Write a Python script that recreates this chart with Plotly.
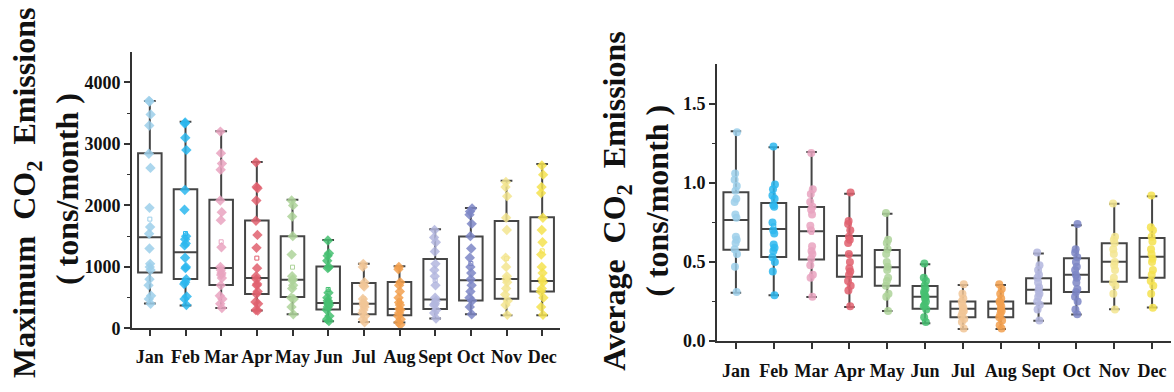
import numpy as np
import plotly.graph_objects as go

MONTHS = ["Jan", "Feb", "Mar", "Apr", "May", "Jun", "Jul", "Aug", "Sept", "Oct", "Nov", "Dec"]
COLORS = ["#9CCFEA", "#2CB7EE", "#E9A3C0", "#E0606F", "#AED39A", "#45C071",
          "#F1C696", "#F2A04F", "#B3B6DE", "#7D86C6", "#F3E58F", "#F4E24F"]

# ---- Maximum CO2 emissions (tons/month) ----
MAX_Q1 = [910, 803, 707, 559, 511, 309, 229, 213, 314, 452, 484, 601]
MAX_MED = [1484, 1239, 984, 819, 793, 415, 399, 314, 468, 782, 803, 771]
MAX_Q3 = [2846, 2261, 2090, 1755, 1500, 1005, 739, 755, 1128, 1495, 1745, 1808]
MAX_LO = [404, 372, 330, 290, 229, 117, 106, 96, 160, 229, 213, 213]
MAX_HI = [3697, 3362, 3207, 2707, 2090, 1436, 1053, 1011, 1612, 1957, 2399, 2675]

MAX_PTS = {
    "Jan": [3700, 3690, 3480, 3300, 2840, 2610, 1960, 1650, 1540, 1300, 1050, 1000, 950, 800, 700, 530, 480, 400],
    "Feb": [3350, 3330, 3100, 2900, 2250, 1930, 1500, 1450, 1380, 1350, 1150, 1000, 980, 800, 750, 720, 520, 480, 380],
    "Mar": [3200, 2850, 2680, 2580, 2080, 1890, 1760, 1320, 1000, 950, 900, 870, 820, 700, 530, 480, 400, 330],
    "Apr": [2700, 2300, 2280, 2080, 1750, 1520, 1310, 980, 850, 800, 720, 700, 600, 560, 430, 400, 300, 290],
    "May": [2080, 2000, 1820, 1500, 1200, 850, 800, 780, 700, 650, 500, 480, 350, 230],
    "Jun": [1430, 1220, 1180, 1100, 1000, 980, 580, 500, 450, 420, 400, 380, 350, 300, 200, 150, 120],
    "Jul": [1050, 1000, 750, 700, 680, 480, 420, 400, 380, 350, 300, 250, 200, 150, 100],
    "Aug": [1000, 960, 750, 700, 600, 500, 420, 380, 320, 300, 250, 200, 150, 100, 60],
    "Sept": [1600, 1480, 1400, 1250, 1050, 950, 850, 700, 500, 450, 400, 380, 300, 250, 160],
    "Oct": [1950, 1900, 1850, 1700, 1500, 1300, 1150, 1000, 900, 800, 700, 600, 500, 450, 350, 230],
    "Nov": [2380, 2300, 2150, 1800, 1600, 1150, 1000, 850, 800, 750, 650, 550, 450, 380, 220],
    "Dec": [2650, 2500, 2300, 2200, 1800, 1600, 1400, 1200, 1000, 900, 800, 750, 650, 600, 500, 350, 220],
}

# ---- Average CO2 emissions (tons/month) ----
AVG_Q1 = [0.578, 0.531, 0.516, 0.406, 0.350, 0.205, 0.150, 0.150, 0.238, 0.311, 0.375, 0.400]
AVG_MED = [0.766, 0.709, 0.695, 0.541, 0.467, 0.281, 0.205, 0.205, 0.324, 0.420, 0.502, 0.533]
AVG_Q3 = [0.941, 0.873, 0.848, 0.664, 0.576, 0.348, 0.250, 0.250, 0.398, 0.523, 0.619, 0.652]
AVG_LO = [0.305, 0.289, 0.279, 0.215, 0.190, 0.113, 0.076, 0.076, 0.129, 0.168, 0.201, 0.213]
AVG_HI = [1.326, 1.225, 1.195, 0.932, 0.805, 0.486, 0.355, 0.355, 0.553, 0.732, 0.869, 0.916]

AVG_PTS = {
    "Jan": [1.32, 1.06, 1.02, 0.98, 0.95, 0.90, 0.88, 0.80, 0.78, 0.66, 0.64, 0.62, 0.58, 0.55, 0.47, 0.31],
    "Feb": [1.23, 0.99, 0.96, 0.92, 0.90, 0.86, 0.85, 0.75, 0.70, 0.68, 0.61, 0.59, 0.57, 0.53, 0.50, 0.44, 0.29],
    "Mar": [1.19, 0.96, 0.93, 0.88, 0.85, 0.83, 0.80, 0.73, 0.70, 0.60, 0.57, 0.55, 0.52, 0.48, 0.42, 0.40, 0.28],
    "Apr": [0.94, 0.76, 0.74, 0.70, 0.66, 0.64, 0.62, 0.55, 0.50, 0.46, 0.44, 0.42, 0.38, 0.35, 0.32, 0.22],
    "May": [0.81, 0.64, 0.62, 0.58, 0.55, 0.50, 0.47, 0.45, 0.40, 0.38, 0.35, 0.30, 0.28, 0.19],
    "Jun": [0.49, 0.40, 0.38, 0.35, 0.33, 0.31, 0.30, 0.28, 0.27, 0.25, 0.23, 0.22, 0.20, 0.15, 0.12],
    "Jul": [0.36, 0.30, 0.27, 0.25, 0.23, 0.21, 0.20, 0.19, 0.18, 0.16, 0.14, 0.12, 0.08],
    "Aug": [0.36, 0.33, 0.30, 0.27, 0.25, 0.24, 0.22, 0.20, 0.19, 0.17, 0.15, 0.13, 0.10, 0.08],
    "Sept": [0.56, 0.48, 0.45, 0.42, 0.40, 0.37, 0.34, 0.32, 0.30, 0.28, 0.25, 0.23, 0.20, 0.13],
    "Oct": [0.74, 0.58, 0.56, 0.53, 0.50, 0.47, 0.45, 0.42, 0.40, 0.37, 0.33, 0.31, 0.28, 0.25, 0.20, 0.17],
    "Nov": [0.87, 0.66, 0.64, 0.62, 0.58, 0.55, 0.50, 0.48, 0.45, 0.40, 0.37, 0.35, 0.30, 0.20],
    "Dec": [0.92, 0.72, 0.70, 0.66, 0.63, 0.58, 0.55, 0.52, 0.50, 0.45, 0.42, 0.38, 0.35, 0.30, 0.21],
}

FONT = "Liberation Serif, Times New Roman, serif"
BOX_LINE = "#454545"

fig = go.Figure()


def add_panel(xa, ya, q1, med, q3, lo, hi, pts, symbol, msize, wwidth):
    fig.add_trace(go.Box(
        x=MONTHS, q1=q1, median=med, q3=q3, lowerfence=lo, upperfence=hi,
        width=0.66, whiskerwidth=wwidth, boxpoints=False,
        line=dict(color=BOX_LINE, width=2), fillcolor="rgba(0,0,0,0)",
        xaxis=xa, yaxis=ya, showlegend=False, hoverinfo="skip"))
    means = [float(np.mean(pts[m])) for m in MONTHS]
    fig.add_trace(go.Scatter(
        x=MONTHS, y=means, mode="markers", xaxis=xa, yaxis=ya, showlegend=False,
        marker=dict(symbol="square-open", size=4, color=COLORS, line=dict(width=1)),
        hoverinfo="skip"))
    for m, c in zip(MONTHS, COLORS):
        fig.add_trace(go.Box(
            x=[m] * len(pts[m]), y=pts[m], width=0.66,
            boxpoints="all", jitter=0.14, pointpos=0,
            line=dict(width=0, color="rgba(0,0,0,0)"), fillcolor="rgba(0,0,0,0)",
            marker=dict(symbol=symbol, size=msize, color=c, opacity=0.85),
            xaxis=xa, yaxis=ya, showlegend=False, hoverinfo="skip"))


add_panel("x", "y", MAX_Q1, MAX_MED, MAX_Q3, MAX_LO, MAX_HI, MAX_PTS, "diamond", 8, 0.5)
add_panel("x2", "y2", AVG_Q1, AVG_MED, AVG_Q3, AVG_LO, AVG_HI, AVG_PTS, "circle", 8, 0.42)

axis_line = dict(showline=True, linecolor="#333333", linewidth=1.6, showgrid=False,
                 zeroline=False, ticks="outside", tickcolor="#333333", tickwidth=1.5,
                 ticklen=6)
tickfont_x = dict(family=FONT, size=18, color="#111111", weight="bold")
tickfont_y = dict(family=FONT, size=18, color="#111111", weight="bold")

fig.update_layout(
    width=1174, height=392,
    margin=dict(l=0, r=0, t=0, b=0),
    paper_bgcolor="white", plot_bgcolor="white",
    boxmode="overlay",
    xaxis=dict(domain=[132 / 1174, 560 / 1174], anchor="y", type="category",
               categoryorder="array", categoryarray=MONTHS, range=[-0.5, 11.5],
               tickangle=0, ticklabelstandoff=5, tickfont=tickfont_x, **axis_line),
    yaxis=dict(domain=[(392 - 337) / 392, (392 - 53) / 392], anchor="x",
               range=[0, 4500], tickvals=[0, 1000, 2000, 3000, 4000],
               tickfont=tickfont_y,
               minor=dict(tickvals=[500, 1500, 2500, 3500], ticks="outside", ticklen=3,
                          tickcolor="#333333", tickwidth=1.2),
               **axis_line),
    xaxis2=dict(domain=[717 / 1174, 1171 / 1174], anchor="y2", type="category",
                categoryorder="array", categoryarray=MONTHS, range=[-0.5, 11.5],
                tickangle=0, ticklabelstandoff=7, tickfont=tickfont_x, **axis_line),
    yaxis2=dict(domain=[(392 - 350) / 392, (392 - 66) / 392], anchor="x2",
                range=[0, 1.75], tickvals=[0, 0.5, 1.0, 1.5], tickformat=".1f",
                tickfont=tickfont_y,
                minor=dict(tickvals=[0.25, 0.75, 1.25], ticks="outside", ticklen=3,
                           tickcolor="#333333", tickwidth=1.2),
                **axis_line),
)

title_font = dict(family=FONT, size=32, color="#111111", weight="bold")
for x, y, text in [
    (27, 198, "Maximum  CO<sub>2</sub>  Emissions"),
    (67, 194, "( tons/month )"),
    (617, 207, "Average  CO<sub>2</sub>  Emissions"),
    (657, 206, "( tons/month )"),
]:
    fig.add_annotation(x=x / 1174, y=(392 - y) / 392, xref="paper", yref="paper",
                       text=text, textangle=-90, showarrow=False,
                       xanchor="center", yanchor="middle", font=title_font)

fig.write_html(
    "out.html",
    config={"displayModeBar": False},
    post_script="document.body.style.margin='0';document.body.style.overflow='hidden';",
)
